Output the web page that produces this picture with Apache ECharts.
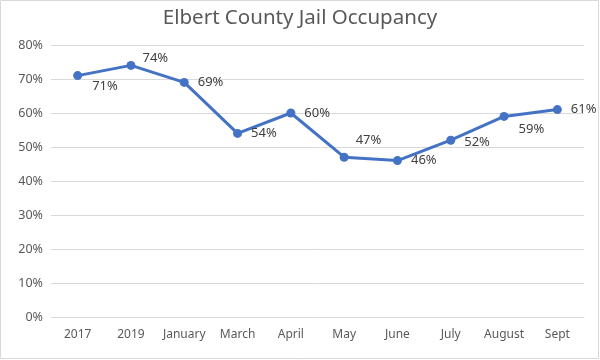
<!DOCTYPE html>
<html><head><meta charset="utf-8">
<script src="https://cdn.jsdelivr.net/npm/echarts@6/dist/echarts.min.js"></script>
<style>html,body{margin:0;padding:0;background:#fff}#c{width:600px;height:360px}</style>
</head><body><div id="c"></div>
<script>
const titleText = 'Elbert County Jail Occupancy';
const categories = ['2017','2019','January','March','April','May','June','July','August','Sept'];
const occupancy = [71, 74, 69, 54, 60, 47, 46, 52, 59, 61];
const yTicks = [0, 10, 20, 30, 40, 50, 60, 70, 80];
// label offset tweaks (dx, dy) relative to default right placement
const labelShift = [[1,11],[-2,-7],[0,0],[0,0],[0,0],[-2,-17],[0,0],[0,2],[1,13],[0,0]];

const chart = echarts.init(document.getElementById('c'));
const fontFam = '"Noto Sans", sans-serif';
chart.setOption({
  animation: false,
  backgroundColor: '#fff',
  title: {
    text: titleText, left: 'center', top: 3,
    textStyle: {fontFamily: fontFam, fontSize: 20.5, fontWeight: 'normal', color: '#595959'}
  },
  graphic: [{type:'rect', shape:{x:0.5,y:0.5,width:598,height:358}, style:{fill:'none', stroke:'#d9d9d9', lineWidth:1}, silent:true}],
  grid: {left: 51, right: 16, top: 45, bottom: 43},
  xAxis: {
    type: 'category', data: categories, boundaryGap: true,
    axisLine: {lineStyle: {color: '#d9d9d9'}},
    axisTick: {show: false},
    axisLabel: {color: '#595959', fontFamily: fontFam, fontSize: 12, margin: 12, interval: 0, hideOverlap: false}
  },
  yAxis: {
    type: 'value', min: yTicks[0], max: yTicks[yTicks.length-1], interval: 10,
    axisLine: {show: false}, axisTick: {show: false},
    splitLine: {lineStyle: {color: '#d9d9d9', width: 1}},
    axisLabel: {color: '#595959', fontFamily: fontFam, fontSize: 12.5, margin: 8, formatter: v => v + '%'}
  },
  series: [{
    type: 'line',
    data: occupancy.map((v, i) => ({value: v, label: {offset: labelShift[i]}})),
    symbol: 'circle', symbolSize: 9,
    lineStyle: {color: '#4472C4', width: 3},
    itemStyle: {color: '#4472C4'},
    label: {show: true, position: 'right', distance: 9, color: '#404040', fontFamily: fontFam, fontSize: 13, formatter: p => p.value + '%'}
  }]
});
</script></body></html>
